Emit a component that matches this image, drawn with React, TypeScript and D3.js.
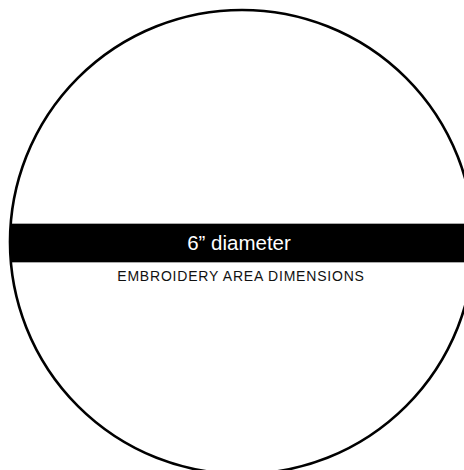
import { useRef, useEffect } from "react";
import * as d3 from "d3";

// hoop size in inches
const diameters = [6];
const bandLabels = ["6\u201d diameter"];
const captions = ["EMBROIDERY AREA DIMENSIONS"];

const width = 464;
const height = 470;

export default function App() {
  const ref = useRef<SVGSVGElement>(null);

  useEffect(() => {
    if (!ref.current) return;
    const svg = d3.select(ref.current);
    svg.selectAll("*").remove();

    const d = diameters[0];
    // inches -> pixels, centre of hoop at 0
    const x = d3.scaleLinear().domain([-d / 2, d / 2]).range([10, 474]);
    const y = d3.scaleLinear().domain([-d / 2, d / 2]).range([10, 474]);
    const r = x(d / 2) - x(0);

    svg
      .append("defs")
      .append("clipPath")
      .attr("id", "hoop")
      .append("circle")
      .attr("cx", x(0))
      .attr("cy", y(0))
      .attr("r", r);

    // black band across the middle
    const bandHalf = 0.25;
    svg
      .append("rect")
      .attr("clip-path", "url(#hoop)")
      .attr("x", x(-d / 2))
      .attr("y", y(-bandHalf) + 1)
      .attr("width", x(d / 2) - x(-d / 2))
      .attr("height", y(bandHalf) - y(-bandHalf))
      .attr("fill", "#000");

    svg
      .append("circle")
      .attr("cx", x(0))
      .attr("cy", y(0))
      .attr("r", r)
      .attr("fill", "none")
      .attr("stroke", "#000")
      .attr("stroke-width", 2.6);

    svg
      .selectAll("text.band")
      .data(bandLabels)
      .join("text")
      .attr("class", "band")
      .attr("x", x(0) - 3)
      .attr("y", y(0) + 8)
      .attr("text-anchor", "middle")
      .attr("fill", "#fff")
      .attr("font-family", "'Liberation Sans', Arial, sans-serif")
      .attr("font-size", 20.5)
      .text((t) => t);

    svg
      .selectAll("text.caption")
      .data(captions)
      .join("text")
      .attr("class", "caption")
      .attr("x", x(0) - 1)
      .attr("y", y(0) + 39)
      .attr("text-anchor", "middle")
      .attr("fill", "#111")
      .attr("font-family", "'Liberation Sans', Arial, sans-serif")
      .attr("font-size", 14)
      .attr("letter-spacing", 0.8)
      .text((t) => t);
  }, []);

  return (
    <svg
      ref={ref}
      width={width}
      height={height}
      style={{ position: "fixed", left: 0, top: 0, background: "#fff" }}
    />
  );
}
